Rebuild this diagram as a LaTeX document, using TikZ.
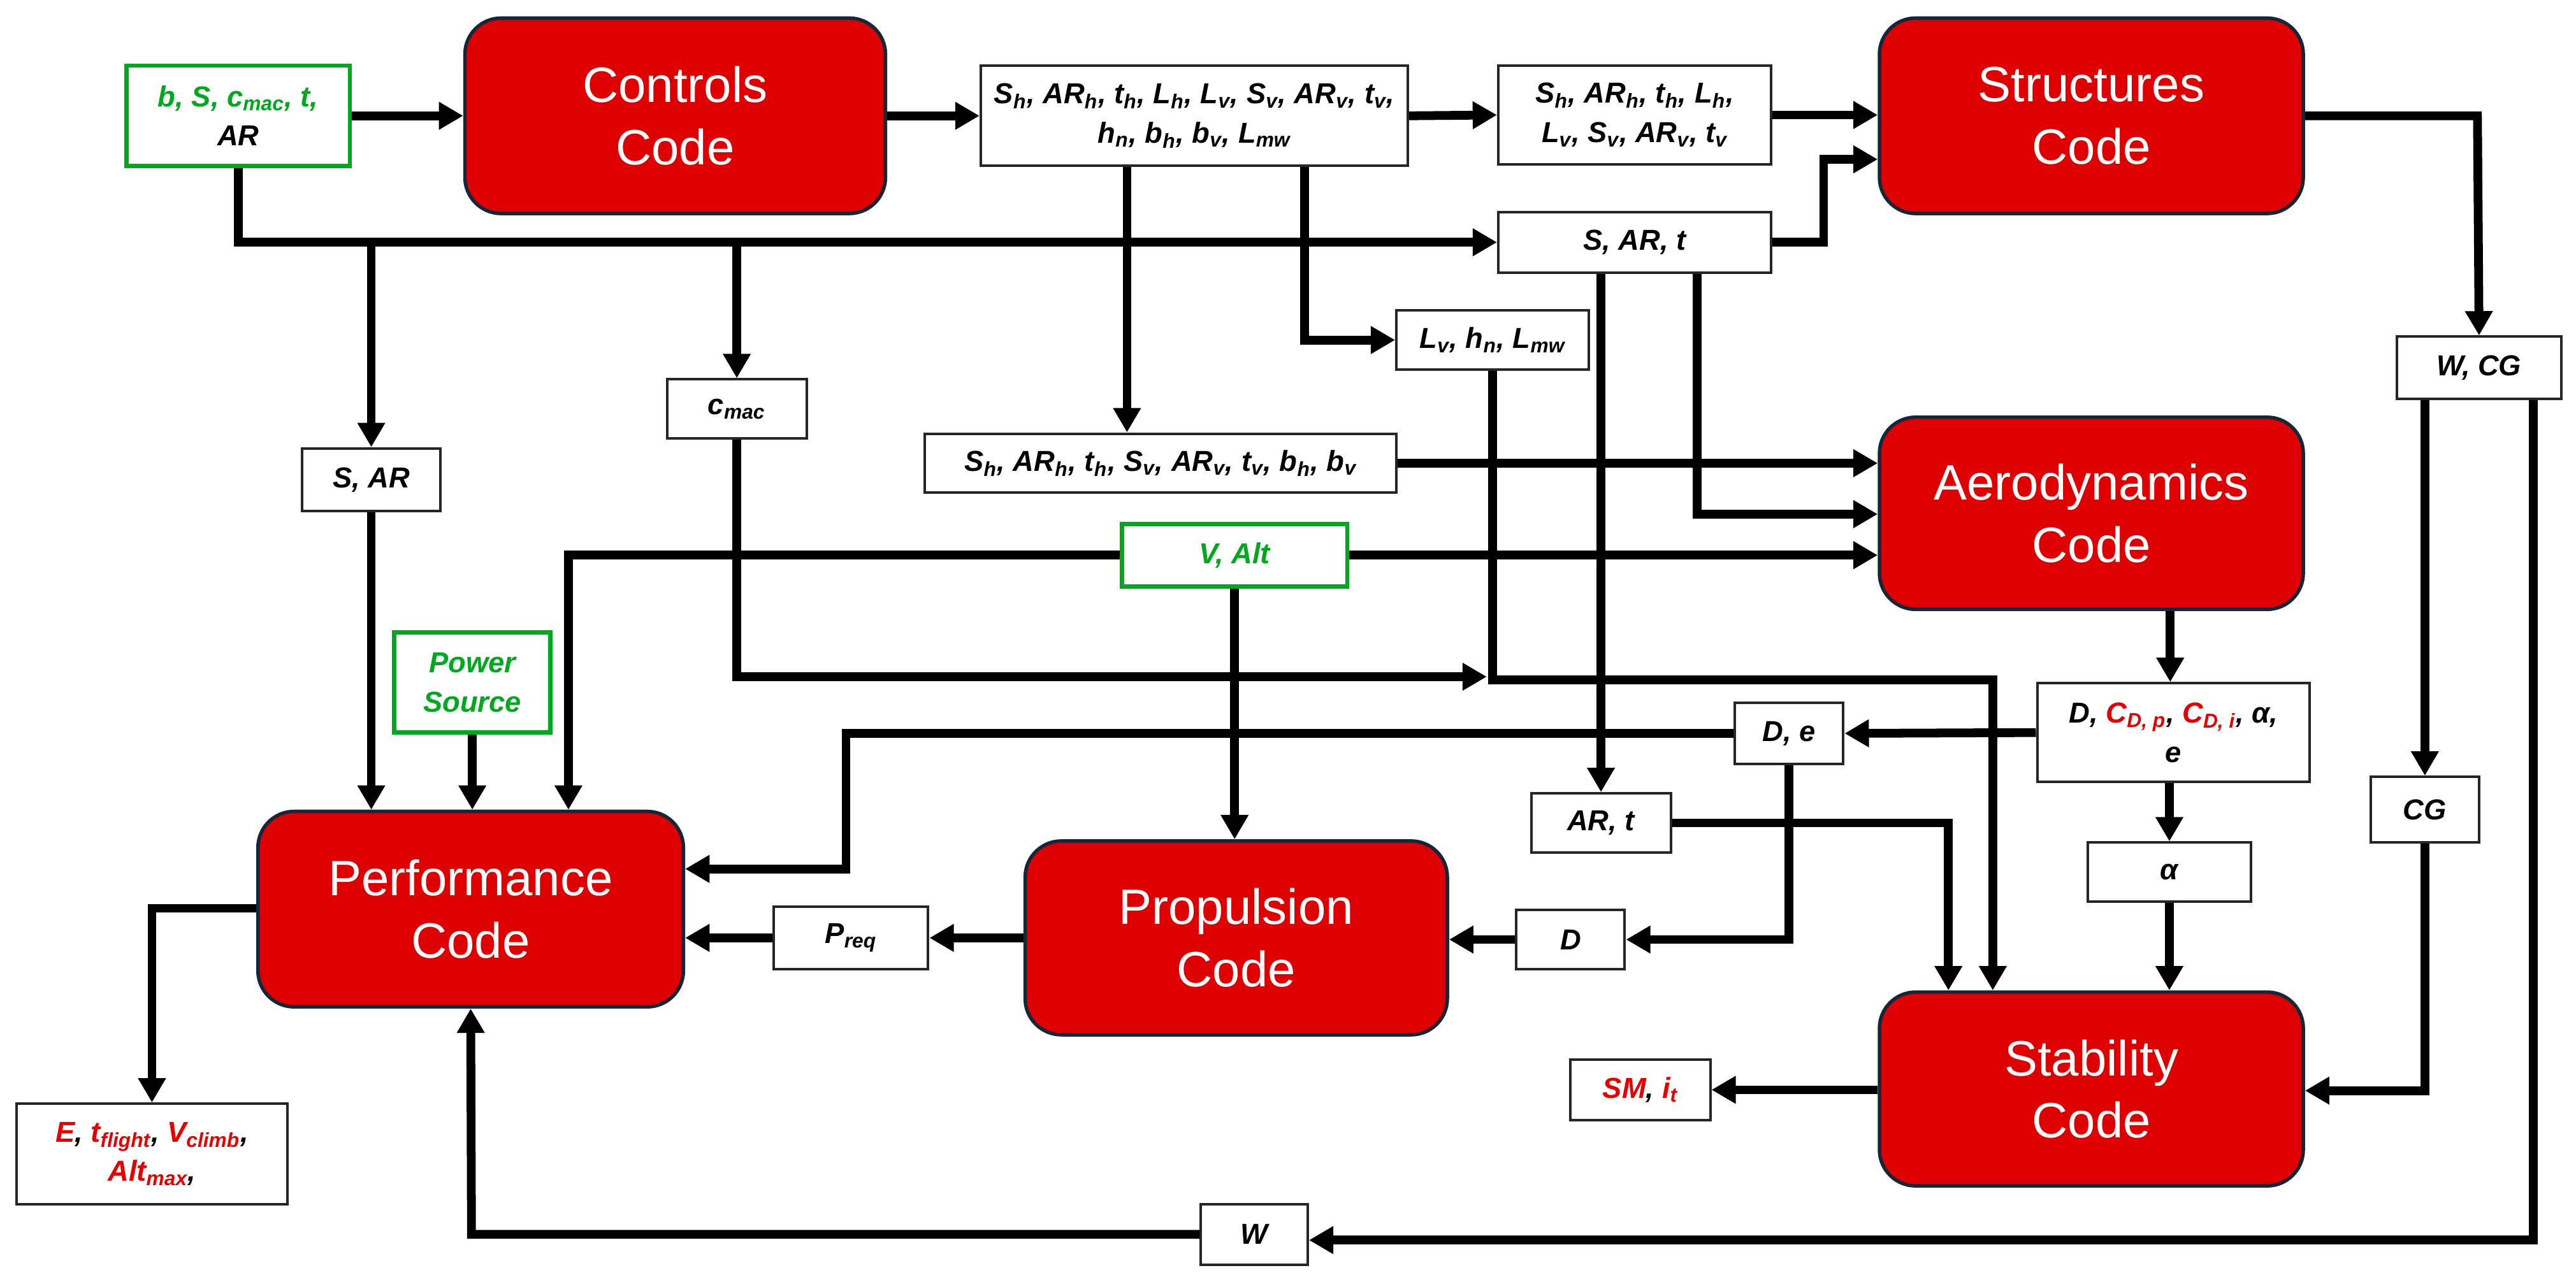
\documentclass[tikz,border=0pt]{standalone}
\usepackage{fontspec}
\setmainfont{Liberation Sans}
\usetikzlibrary{arrows.meta}
\definecolor{codered}{RGB}{222,0,0}
\definecolor{edgeblue}{RGB}{18,40,58}
\definecolor{tgreen}{RGB}{0,168,30}
\definecolor{tred}{RGB}{230,0,0}
\newcommand{\sbs}[1]{\textsubscript{#1}}
\begin{document}
\begin{tikzpicture}[x=0.025cm,y=-0.025cm,
  code/.style={draw=edgeblue,line width=1.5pt,fill=codered,rounded corners=0.55cm,
    text=white,align=center,inner sep=0pt,font=\fontsize{21.5}{27}\selectfont},
  box/.style={draw=black!85,line width=1.1pt,fill=white,align=center,inner sep=0pt,
    font=\bfseries\itshape\fontsize{12.5}{17}\selectfont},
  gbox/.style={box,draw=tgreen,line width=1.8pt},
  ln/.style={line width=3.8pt},
  ar/.style={ln,-{Triangle[width=0.4cm,length=0.37cm]}}]
\useasboundingbox (0,0) rectangle (1568,780.5);
% code blocks
\node[code,minimum width=256*0.025cm,minimum height=119*0.025cm] (ctrl) at (411,70.5) {Controls\\Code};
\node[code,minimum width=258*0.025cm,minimum height=119*0.025cm] (str) at (1273,70.5) {Structures\\Code};
\node[code,minimum width=258*0.025cm,minimum height=117*0.025cm] (aero) at (1273,312.5) {Aerodynamics\\Code};
\node[code,minimum width=259*0.025cm,minimum height=119*0.025cm] (perf) at (286.5,553.5) {Performance\\Code};
\node[code,minimum width=257*0.025cm,minimum height=118*0.025cm] (prop) at (752.5,571) {Propulsion\\Code};
\node[code,minimum width=258*0.025cm,minimum height=118*0.025cm] (stab) at (1273,663) {Stability\\Code};
% data boxes
\node[gbox,minimum width=136*0.025cm,minimum height=61*0.025cm] (in1) at (145,70.5) {{\color{tgreen}b, S, c\sbs{mac}, t,}\\AR};
\node[box,minimum width=260*0.025cm,minimum height=61*0.025cm] (cs) at (727,70.5) {S\sbs{h}, AR\sbs{h}, t\sbs{h}, L\sbs{h}, L\sbs{v}, S\sbs{v}, AR\sbs{v}, t\sbs{v},\\h\sbs{n}, b\sbs{h}, b\sbs{v}, L\sbs{mw}};
\node[box,minimum width=166*0.025cm,minimum height=60*0.025cm] (sh1) at (995,70) {S\sbs{h}, AR\sbs{h}, t\sbs{h}, L\sbs{h},\\L\sbs{v}, S\sbs{v}, AR\sbs{v}, t\sbs{v}};
\node[box,minimum width=166*0.025cm,minimum height=37*0.025cm] (sart) at (995,147.5) {S, AR, t};
\node[box,minimum width=117*0.025cm,minimum height=36*0.025cm] (lv) at (908.5,207) {L\sbs{v}, h\sbs{n}, L\sbs{mw}};
\node[box,minimum width=100*0.025cm,minimum height=38*0.025cm] (wcg) at (1509,224) {W, CG};
\node[box,minimum width=85*0.025cm,minimum height=36*0.025cm] (cmac) at (448.5,249) {c\sbs{mac}};
\node[box,minimum width=84*0.025cm,minimum height=38*0.025cm] (sar) at (226,292) {S, AR};
\node[box,minimum width=287*0.025cm,minimum height=36*0.025cm] (sh2) at (706.5,282) {S\sbs{h}, AR\sbs{h}, t\sbs{h}, S\sbs{v}, AR\sbs{v}, t\sbs{v}, b\sbs{h}, b\sbs{v}};
\node[gbox,minimum width=137*0.025cm,minimum height=38*0.025cm,text=tgreen] (valt) at (751.5,338) {V, Alt};
\node[gbox,minimum width=95*0.025cm,minimum height=61*0.025cm,text=tgreen] (power) at (287.5,415.5) {Power\\Source};
\node[box,minimum width=166*0.025cm,minimum height=60*0.025cm] (dcd) at (1323,446) {D, {\color{tred}C\sbs{D, p}}, {\color{tred}C\sbs{D, i}}, α,\\e};
\node[box,minimum width=66*0.025cm,minimum height=37*0.025cm] (de) at (1089,446.5) {D, e};
\node[box,minimum width=85*0.025cm,minimum height=36*0.025cm] (art) at (974.5,501) {AR, t};
\node[box,minimum width=99*0.025cm,minimum height=36*0.025cm] (alpha) at (1320.5,531) {α};
\node[box,minimum width=66*0.025cm,minimum height=40*0.025cm] (cg) at (1476,493) {CG};
\node[box,minimum width=66*0.025cm,minimum height=36*0.025cm] (d) at (956,572) {D};
\node[box,minimum width=85*0.025cm,minimum height=37*0.025cm] (smit) at (998.5,663.5) {{\color{tred}SM}, {\color{tred}i\sbs{t}}};
\node[box,minimum width=65*0.025cm,minimum height=37*0.025cm] (w) at (763.5,751.5) {W};
\node[box,minimum width=94*0.025cm,minimum height=38*0.025cm] (preq) at (518,571) {P\sbs{req}};
\node[box,minimum width=165*0.025cm,minimum height=61*0.025cm] (out) at (92.5,702.5) {{\color{tred}E}, {\color{tred}t\sbs{flight}}, {\color{tred}V\sbs{climb}},\\{\color{tred}Alt\sbs{max}},};
% junction coordinates
\coordinate (bus1) at (226,147.5);
\coordinate (bus2) at (448.5,147.5);
\coordinate (j1) at (905,412);
% connectors
\draw[ar] (in1.east) -- (ctrl.west);
\draw[ar] (ctrl.east) -- (cs.west);
\draw[ar] (cs.east) -- (sh1.west);
\draw[ar] (sh1.east) -- (str.west |- sh1.east);
\draw[ar] (sart.east) -- (1110,147.5) -- (1110,97) -- (str.west |- 0,97);
\draw[ar] (in1.south) -- (145,147.5) -- (sart.west);
\draw[ar] (bus1) -- (sar.north);
\draw[ar] (bus2) -- (cmac.north);
\draw[ar] (cs.south -| 686,0) -- (sh2.north -| 686,0);
\draw[ar] (cs.south -| 794,0) -- (794,207) -- (lv.west);
\draw[ar] (sh2.east) -- (aero.west |- sh2.east);
\draw[ar] (sart.south -| 1033,0) -- (1033,313) -- (aero.west |- 0,313);
\draw[ar] (valt.east) -- (aero.west |- valt.east);
\draw[ar] (valt.west) -- (346,338) -- (perf.north -| 346,0);
\draw[ar] (valt.south) -- (valt.south |- prop.north);
\draw[ar] (cmac.south) -- (448.5,412) -- (j1);
\draw[ar] (lv.south) -- (908.5,414) -- (1213,414) -- (stab.north -| 1213,0);
\draw[ar] (sart.south -| 974.5,0) -- (art.north);
\draw[ar] (str.east) -- (1508,70.5) -- (wcg.north);
\draw[ar] (wcg.south -| 1476,0) -- (cg.north);
\draw[ar] (wcg.south -| 1542,0) -- (1542,755) -- (w.east |- 0,755);
\draw[ar] (aero.south -| 1321,0) -- (dcd.north -| 1321,0);
\draw[ar] (dcd.west) -- (de.east);
\draw[ar] (de.west) -- (515,446.5) -- (515,529) -- (perf.east |- 0,529);
\draw[ar] (de.south) -- (1089,572) -- (d.east);
\draw[ar] (d.west) -- (prop.east |- d.west);
\draw[ar] (prop.west) -- (preq.east);
\draw[ar] (preq.west) -- (perf.east |- preq.west);
\draw[ar] (art.east) -- (1186,501) -- (stab.north -| 1186,0);
\draw[ar] (dcd.south -| alpha.north) -- (alpha.north);
\draw[ar] (alpha.south) -- (stab.north -| alpha.south);
\draw[ar] (cg.south) -- (1476,664) -- (stab.east |- 0,664);
\draw[ar] (stab.west |- smit.east) -- (smit.east);
\draw[ar] (w.west) -- (287,751.5) -- (perf.south);
\draw[ar] (perf.west |- 0,553) -- (92.5,553) -- (out.north);
\draw[ar] (sar.south) -- (perf.north -| sar.south);
\draw[ar] (power.south) -- (power.south |- perf.north);
\end{tikzpicture}
\end{document}
